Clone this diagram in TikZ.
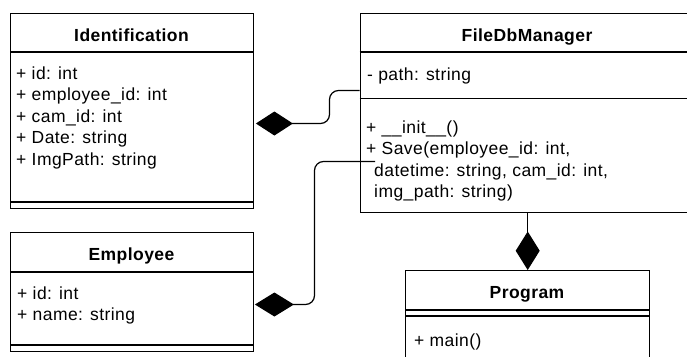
\documentclass[tikz,border=0pt]{standalone}
\usepackage{fontspec}
\setmainfont{Liberation Sans}[LetterSpace=2.5]
\usetikzlibrary{arrows.meta}
\begin{document}
\begin{tikzpicture}[x=1pt,y=-1pt,
  classbox/.style={draw=black,line width=1.4pt,rectangle,inner sep=0pt,anchor=north west},
  rule/.style={draw=black,line width=1.4pt},
  title/.style={anchor=base,inner sep=0pt,font=\fontsize{17.5}{21.5}\selectfont\bfseries},
  member/.style={anchor=base west,inner sep=0pt,font=\fontsize{17.5}{21.5}\selectfont},
  link/.style={draw=black,line width=1.2pt,rounded corners=9pt},
  comp/.style={-{Diamond[length=#1,width=24pt]}},
  comp/.default=37pt
]
\useasboundingbox (0,0) rectangle (687,356);
\fill[white] (0,0) rectangle (687,356);
\clip (0,0) rectangle (687,356);

% class boxes
\node[classbox,minimum width=243pt,minimum height=195pt] (ident) at (10,13) {};
\node[classbox,minimum width=335pt,minimum height=199pt] (fdb) at (359.5,13) {};
\node[classbox,minimum width=243pt,minimum height=119pt] (emp) at (10,232) {};
\node[classbox,minimum width=244pt,minimum height=120pt] (prog) at (405,270) {};

% compartment rules
\draw[rule] (10,52) -- (253,52);
\draw[rule] (10,202) -- (253,202);
\draw[rule] (359.5,52) -- (694.5,52);
\draw[rule] (359.5,98.5) -- (694.5,98.5);
\draw[rule] (10,272) -- (253,272);
\draw[rule] (10,345) -- (253,345);
\draw[rule] (405,310) -- (649,310);
\draw[rule] (405,316) -- (649,316);

% class names
\node[title] (identT) at (131.5,41.5) {Identification};
\node[title] (fdbT) at (527,41.5) {FileDbManager};
\node[title] (empT) at (131.5,260) {Employee};
\node[title] (progT) at (527,298) {Program};

% Identification attributes
\node[member] (i1) at (16,79) {+ id: int};
\node[member] (i2) at (16,100.5) {+ employee\_id: int};
\node[member] (i3) at (16,122) {+ cam\_id: int};
\node[member] (i4) at (16,143.5) {+ Date: string};
\node[member] (i5) at (16,165) {+ ImgPath: string};

% FileDbManager members
\node[member] (f1) at (367,80) {- path: string};
\node[member] (f2) at (366,133) {+ \_\_init\_\_()};
\node[member] (f3) at (366,154.5) {+ Save(employee\_id: int,};
\node[member] (f4) at (374,176) {datetime: string, cam\_id: int,};
\node[member] (f5) at (374,197.5) {img\_path: string)};

% Employee attributes
\node[member] (e1) at (17,299) {+ id: int};
\node[member] (e2) at (17,320.5) {+ name: string};

% Program operations
\node[member] (p1) at (414,346) {+ main()};

% composition links
\coordinate (a1) at (329.5,90.5);
\coordinate (a2) at (329.5,123.5);
\draw[link,comp=37pt] (fdb.west |- a1) -- (a1) -- (a2) -- ([xshift=1.5pt]ident.east |- a2);

\coordinate (s2) at (375,161.5);
\coordinate (b1) at (314.5,161.5);
\coordinate (b2) at (314.5,304.5);
\draw[link,comp=39pt] (s2) -- (b1) -- (b2) -- ([xshift=0.5pt]emp.east |- b2);

\draw[link,comp=38.5pt] (fdb.south) -- (prog.north);
\end{tikzpicture}
\end{document}
